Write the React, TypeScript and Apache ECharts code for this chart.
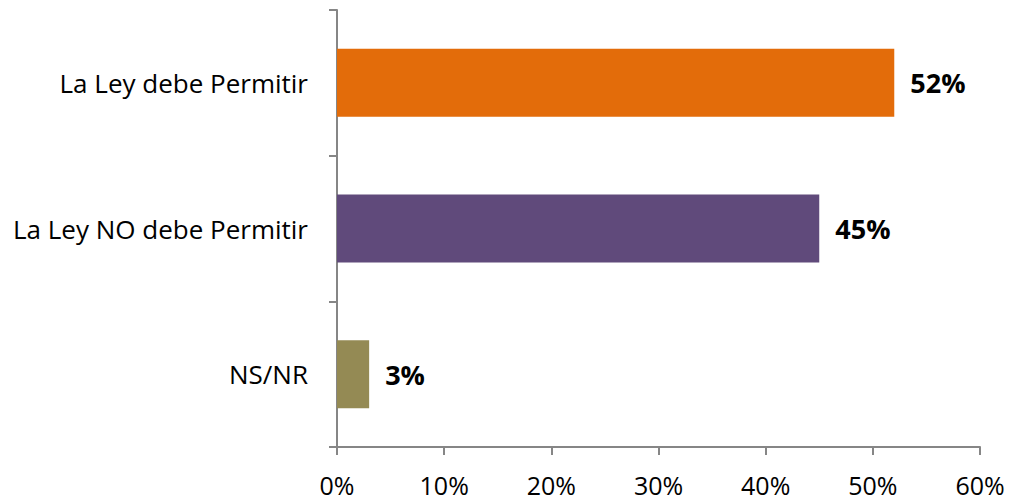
import React, { useEffect, useRef } from "react";
import * as echarts from "echarts";

const categories = ["NS/NR", "La Ley NO debe Permitir", "La Ley debe Permitir"];
const values = [3, 45, 52];
const colors = ["#948A54", "#604A7B", "#E36C0A"];
const xTicks = [0, 10, 20, 30, 40, 50, 60];

export default function App() {
  const ref = useRef<HTMLDivElement>(null);
  useEffect(() => {
    if (!ref.current) return;
    const chart = echarts.init(ref.current, null, { renderer: "svg" });
    const font = "'Open Sans', sans-serif";
    chart.setOption({
      animation: false,
      grid: { left: 337, right: 32, top: 10, bottom: 54, containLabel: false },
      xAxis: {
        type: "value",
        min: xTicks[0],
        max: xTicks[xTicks.length - 1],
        interval: 10,
        axisLine: { show: true, lineStyle: { color: "#868686", width: 2 } },
        axisTick: { show: true, length: 8, lineStyle: { color: "#868686", width: 2 } },
        splitLine: { show: false },
        axisLabel: {
          formatter: "{value}%",
          color: "#000",
          fontFamily: font,
          fontSize: 25,
          margin: 25,
        },
      },
      yAxis: {
        type: "category",
        data: categories,
        axisLine: { show: true, lineStyle: { color: "#868686", width: 2 } },
        axisTick: { show: true, length: 8, lineStyle: { color: "#868686", width: 2 } },
        axisLabel: {
          color: "#000",
          fontFamily: font,
          fontSize: 26,
          margin: 29,
        },
      },
      series: [
        {
          type: "bar",
          barWidth: 68,
          data: values.map((v, i) => ({ value: v, itemStyle: { color: colors[i] } })),
          label: {
            show: true,
            position: "right",
            distance: 16,
            formatter: "{c}%",
            color: "#000",
            fontFamily: font,
            fontWeight: "bold",
            fontSize: 27,
          },
        },
      ],
    });
    return () => chart.dispose();
  }, []);
  return <div ref={ref} style={{ width: 1012, height: 501, position: "absolute", left: 0, top: 0 }} />;
}
